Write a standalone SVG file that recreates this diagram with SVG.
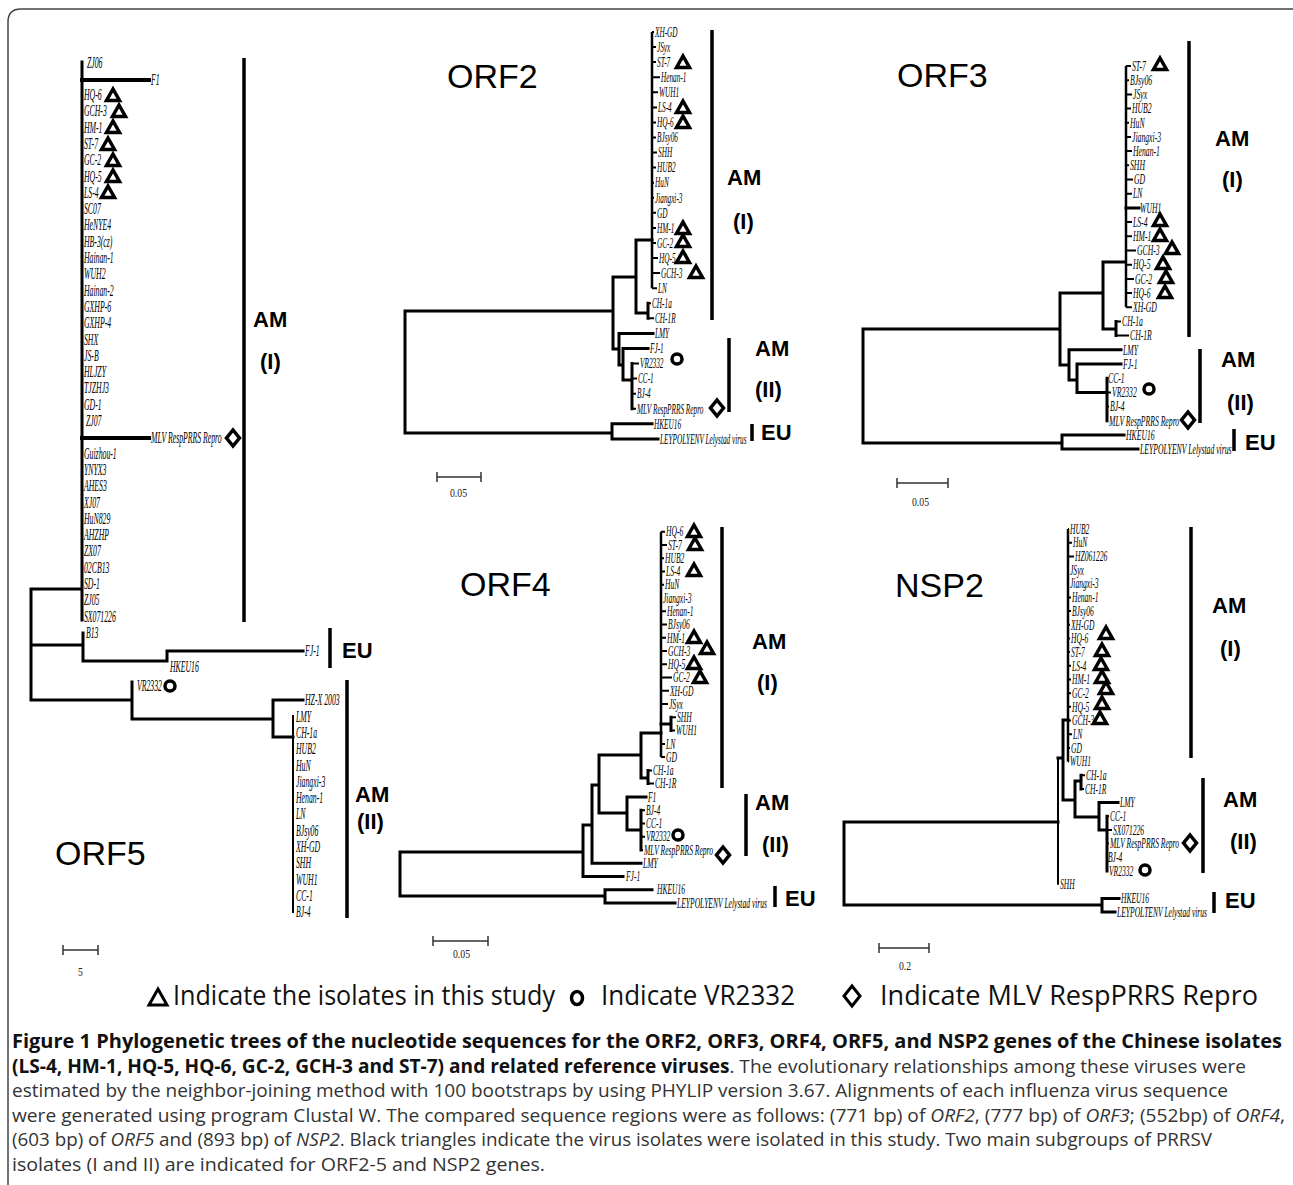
<svg xmlns="http://www.w3.org/2000/svg" xmlns:xlink="http://www.w3.org/1999/xlink" width="1293" height="1185" viewBox="0 0 1293 1185">
<style>
.b{stroke:#000;stroke-width:3;fill:none;stroke-linecap:square}
.bw{stroke:#000;stroke-width:4;fill:none;stroke-linecap:square}
.s{stroke:#000;stroke-width:2;fill:none}
.bar{stroke:#000;stroke-width:3.5;fill:none}
.sb{stroke:#333;stroke-width:1.5;fill:none}
.lf{font-family:"Liberation Serif","Times New Roman",serif;font-style:italic;fill:#000}
.l14{font-size:14px}
.l5{font-size:16.5px}
.cl{font-family:"Liberation Sans",Arial,sans-serif;font-weight:bold;font-size:22px;fill:#000}
.ti{font-family:"Liberation Sans",Arial,sans-serif;font-size:34px;fill:#000}
.mk{fill:#fff;stroke:#000;stroke-width:3.5;stroke-linejoin:miter}
.sc{font-family:"Liberation Serif","Times New Roman",serif;font-size:13px;fill:#222}
.lg{font-family:"Open Sans","Liberation Sans",sans-serif;font-size:28px;fill:#111}
.cap{font-family:"Open Sans","Liberation Sans",sans-serif;font-size:19px;fill:#333}
.cb{font-weight:bold;fill:#111}
.it{font-style:italic}
</style>
<defs>
<path id="tri" class="mk" d="M0,-6 L6.5,5.5 L-6.5,5.5 Z"/>
<circle id="cir" class="mk" r="5"/>
<path id="dia" class="mk" d="M0,-8 L6.5,0 L0,8 L-6.5,0 Z"/>
</defs>
<rect width="1293" height="1185" fill="#fff"/>
<path d="M8,1185V22Q8,9 21,9H1293" fill="none" stroke="#444" stroke-width="1.5"/>

<!-- ORF5 -->
<g id="orf5">
<g id="orf5-connectors">
<path class="b" d="M31,589V700M31,589H82M31,645H83M31,700H132M82,62V620M83,633V661M83,661H167M167,651V661M167,651H303M132,682V719M132,719H273M273,700V737M273,700H303M273,737H293"/>
<path class="bw" d="M82,80H149M82,438H149"/>
<path class="s" d="M293,715V913"/>
</g>
<g class="lf l5">
<text transform="translate(87,68) scale(.47 1)">ZJ06</text>
<text transform="translate(151,85) scale(.47 1)">F1</text>
<text transform="translate(84,100) scale(.47 1)">HQ-6</text>
<text transform="translate(84,116.3) scale(.47 1)">GCH-3</text>
<text transform="translate(84,132.6) scale(.47 1)">HM-1</text>
<text transform="translate(84,149) scale(.47 1)">ST-7</text>
<text transform="translate(84,165.2) scale(.47 1)">GC-2</text>
<text transform="translate(84,181.5) scale(.47 1)">HQ-5</text>
<text transform="translate(84,197.8) scale(.47 1)">LS-4</text>
<text transform="translate(84,214) scale(.47 1)">SC07</text>
<text transform="translate(84,230.4) scale(.47 1)">HeNYE4</text>
<text transform="translate(84,246.7) scale(.47 1)">HB-3(cz)</text>
<text transform="translate(84,263) scale(.47 1)">Hainan-1</text>
<text transform="translate(84,279.3) scale(.47 1)">WUH2</text>
<text transform="translate(84,295.6) scale(.47 1)">Hainan-2</text>
<text transform="translate(84,311.9) scale(.47 1)">GXHP-6</text>
<text transform="translate(84,328.2) scale(.47 1)">GXHP-4</text>
<text transform="translate(84,344.5) scale(.47 1)">SHX</text>
<text transform="translate(84,360.8) scale(.47 1)">JS-B</text>
<text transform="translate(84,377) scale(.47 1)">HLJZY</text>
<text transform="translate(84,393.4) scale(.47 1)">TJZHJ3</text>
<text transform="translate(84,409.7) scale(.47 1)">GD-1</text>
<text transform="translate(86,426) scale(.47 1)">ZJ07</text>
<text transform="translate(151,443) scale(.47 1)">MLV RespPRRS Repro</text>
<text transform="translate(84,458.6) scale(.47 1)">Guizhou-1</text>
<text transform="translate(84,474.9) scale(.47 1)">YNYX3</text>
<text transform="translate(84,491.2) scale(.47 1)">AHES3</text>
<text transform="translate(84,507.5) scale(.47 1)">XJ07</text>
<text transform="translate(84,523.8) scale(.47 1)">HuN829</text>
<text transform="translate(84,540) scale(.47 1)">AHZHP</text>
<text transform="translate(84,556.4) scale(.47 1)">ZX07</text>
<text transform="translate(84,572.7) scale(.47 1)">02CB13</text>
<text transform="translate(84,589) scale(.47 1)">SD-1</text>
<text transform="translate(84,605.3) scale(.47 1)">ZJ05</text>
<text transform="translate(84,621.6) scale(.47 1)">SX071226</text>
<text transform="translate(86,638) scale(.47 1)">B13</text>
<text transform="translate(305,656) scale(.47 1)">FJ-1</text>
<text transform="translate(170,672) scale(.47 1)">HKEU16</text>
<text transform="translate(137,691) scale(.47 1)">VR2332</text>
<text transform="translate(305,705) scale(.47 1)">HZ-X 2003</text>
<text transform="translate(296,722) scale(.47 1)">LMY</text>
<text transform="translate(296,738) scale(.47 1)">CH-1a</text>
<text transform="translate(296,754) scale(.47 1)">HUB2</text>
<text transform="translate(296,770.5) scale(.47 1)">HuN</text>
<text transform="translate(296,786.8) scale(.47 1)">Jiangxi-3</text>
<text transform="translate(296,803) scale(.47 1)">Henan-1</text>
<text transform="translate(296,819) scale(.47 1)">LN</text>
<text transform="translate(296,835.6) scale(.47 1)">BJsy06</text>
<text transform="translate(296,852) scale(.47 1)">XH-GD</text>
<text transform="translate(296,868) scale(.47 1)">SHH</text>
<text transform="translate(296,884.5) scale(.47 1)">WUH1</text>
<text transform="translate(296,900.8) scale(.47 1)">CC-1</text>
<text transform="translate(296,917) scale(.47 1)">BJ-4</text>
</g>
<use href="#tri" x="113" y="95"/><use href="#tri" x="119" y="111"/><use href="#tri" x="113" y="127"/><use href="#tri" x="108" y="144"/><use href="#tri" x="113" y="160"/><use href="#tri" x="113" y="176"/><use href="#tri" x="108" y="192"/>
<use href="#cir" x="170" y="686"/>
<use href="#dia" x="233" y="438"/>
<path class="bar" d="M244,58V622M330,628V668M347,680V918"/>
<text class="cl" x="253" y="327">AM</text>
<text class="cl" x="260" y="369">(I)</text>
<text class="cl" x="342" y="658">EU</text>
<text class="cl" x="355" y="802">AM</text>
<text class="cl" x="357" y="829">(II)</text>
<text class="ti" x="55" y="865">ORF5</text>
<path class="sb" d="M63,950H98M63,945V955M98,945V955"/>
<text class="sc" transform="translate(78,976) scale(.75 1)">5</text>
</g>

<!-- ORF2 -->
<g id="orf2">
<g id="orf2-connectors">
<path class="b" d="M405,311V433M405,311H613M405,433H612M612,423.8V438.9M612,423.8H652M612,438.9H658M613,277V349M613,277H636M636,240V313M636,240H652M636,313H648M648,303.3V318.3M613,349H619M619,333.4V365M619,333.4H653M619,365H623M623,348.5V380M623,348.5H648M623,380H632M632,363.5V408.8"/>
<path class="s" style="stroke-width:2.5" d="M652,32V288.2"/>
<path class="s" d="M652,32H654M652,47.1H656M652,62.1H656M652,77.2H660M652,92.3H658M652,107.4H657M652,122.4H656M652,137.5H656M652,152.6H657M652,167.6H656M652,182.7H654M652,197.8H654M652,212.8H656M652,227.9H656M652,243H656M652,258H658M652,273.1H660M652,288.2H657M648,303.3H651M648,318.3H654M632,363.5H639M632,378.6H637M632,393.7H636M632,408.8H636"/>
</g>
<g class="lf l14">
<text transform="translate(655,36.7) scale(.52 1)">XH-GD</text>
<text transform="translate(657,51.8) scale(.52 1)">JSyx</text>
<text transform="translate(657,66.8) scale(.52 1)">ST-7</text>
<text transform="translate(661,81.9) scale(.52 1)">Henan-1</text>
<text transform="translate(659,97) scale(.52 1)">WUH1</text>
<text transform="translate(658,112.1) scale(.52 1)">LS-4</text>
<text transform="translate(657,127.1) scale(.52 1)">HQ-6</text>
<text transform="translate(657,142.2) scale(.52 1)">BJsy06</text>
<text transform="translate(658,157.3) scale(.52 1)">SHH</text>
<text transform="translate(657,172.3) scale(.52 1)">HUB2</text>
<text transform="translate(655,187.4) scale(.52 1)">HuN</text>
<text transform="translate(655,202.5) scale(.52 1)">Jiangxi-3</text>
<text transform="translate(657,217.5) scale(.52 1)">GD</text>
<text transform="translate(657,232.6) scale(.52 1)">HM-1</text>
<text transform="translate(657,247.7) scale(.52 1)">GC-2</text>
<text transform="translate(659,262.7) scale(.52 1)">HQ-5</text>
<text transform="translate(661,277.8) scale(.52 1)">GCH-3</text>
<text transform="translate(658,292.9) scale(.52 1)">LN</text>
<text transform="translate(652,308) scale(.52 1)">CH-1a</text>
<text transform="translate(655,323) scale(.52 1)">CH-1R</text>
<text transform="translate(655,338.1) scale(.52 1)">LMY</text>
<text transform="translate(650,353.2) scale(.52 1)">FJ-1</text>
<text transform="translate(640,368.2) scale(.52 1)">VR2332</text>
<text transform="translate(638,383.3) scale(.52 1)">CC-1</text>
<text transform="translate(637,398.4) scale(.52 1)">BJ-4</text>
<text transform="translate(637,413.5) scale(.52 1)">MLV RespPRRS Repro</text>
<text transform="translate(654,428.5) scale(.52 1)">HKEU16</text>
<text transform="translate(660,443.6) scale(.52 1)">LEYPOLYENV Lelystad virus</text>
</g>
<use href="#tri" x="683" y="62"/><use href="#tri" x="683" y="107"/><use href="#tri" x="683" y="122"/><use href="#tri" x="683" y="228"/><use href="#tri" x="683" y="241"/><use href="#tri" x="683" y="257"/><use href="#tri" x="696" y="272"/>
<use href="#cir" x="677" y="359"/>
<use href="#dia" x="717" y="408"/>
<path class="bar" d="M712,30V320M729,338V412M752,424V441"/>
<text class="cl" x="727" y="185">AM</text>
<text class="cl" x="733" y="229">(I)</text>
<text class="cl" x="755" y="356">AM</text>
<text class="cl" x="755" y="397">(II)</text>
<text class="cl" x="761" y="440">EU</text>
<text class="ti" x="447" y="88">ORF2</text>
<path class="sb" d="M437,477H481M437,472V482M481,472V482"/>
<text class="sc" transform="translate(450,497) scale(.75 1)">0.05</text>
</g>

<!-- ORF3 -->
<g id="orf3">
<g id="orf3-connectors">
<path class="b" d="M863,329V443M863,329H1060M863,443H1062M1062,434.9V449.1M1062,434.9H1124M1062,449.1H1138M1060,293V365M1060,293H1103M1103,262V329M1103,262H1125M1103,329H1116M1116,321.4V335.6M1060,365H1069M1069,349.8V380M1069,349.8H1121M1069,380H1077M1077,364V392.4M1077,364H1121M1077,392.4H1107M1107,378.2V420.8M1126,207.9H1139"/>
<path class="s" style="stroke-width:2.5" d="M1126,66V307.2"/>
<path class="s" d="M1126,66H1131M1126,80.2H1129M1126,94.4H1132M1126,108.6H1131M1126,122.8H1129M1126,137H1131M1126,151.1H1132M1126,165.3H1129M1126,179.5H1133M1126,193.7H1132M1126,222.1H1132M1126,236.3H1132M1126,250.5H1136M1126,264.7H1132M1126,278.9H1134M1126,293H1132M1126,307.2H1132M1116,321.4H1121M1116,335.6H1129M1107,392.4H1111M1107,406.6H1109M1107,420.8H1108"/>
</g>
<g class="lf l14">
<text transform="translate(1132,70.7) scale(.55 1)">ST-7</text>
<text transform="translate(1130,84.9) scale(.55 1)">BJsy06</text>
<text transform="translate(1133,99.1) scale(.55 1)">JSyx</text>
<text transform="translate(1132,113.3) scale(.55 1)">HUB2</text>
<text transform="translate(1130,127.5) scale(.55 1)">HuN</text>
<text transform="translate(1132,141.7) scale(.55 1)">Jiangxi-3</text>
<text transform="translate(1133,155.8) scale(.55 1)">Henan-1</text>
<text transform="translate(1130,170) scale(.55 1)">SHH</text>
<text transform="translate(1134,184.2) scale(.55 1)">GD</text>
<text transform="translate(1133,198.4) scale(.55 1)">LN</text>
<text transform="translate(1140,212.6) scale(.55 1)">WUH1</text>
<text transform="translate(1133,226.8) scale(.55 1)">LS-4</text>
<text transform="translate(1133,241) scale(.55 1)">HM-1</text>
<text transform="translate(1137,255.2) scale(.55 1)">GCH-3</text>
<text transform="translate(1133,269.4) scale(.55 1)">HQ-5</text>
<text transform="translate(1135,283.6) scale(.55 1)">GC-2</text>
<text transform="translate(1133,297.7) scale(.55 1)">HQ-6</text>
<text transform="translate(1133,311.9) scale(.55 1)">XH-GD</text>
<text transform="translate(1122,326.1) scale(.55 1)">CH-1a</text>
<text transform="translate(1130,340.3) scale(.55 1)">CH-1R</text>
<text transform="translate(1123,354.5) scale(.55 1)">LMY</text>
<text transform="translate(1123,368.7) scale(.55 1)">FJ-1</text>
<text transform="translate(1108,382.9) scale(.55 1)">CC-1</text>
<text transform="translate(1112,397.1) scale(.55 1)">VR2332</text>
<text transform="translate(1110,411.3) scale(.55 1)">BJ-4</text>
<text transform="translate(1109,425.5) scale(.55 1)">MLV RespPRRS Repro</text>
<text transform="translate(1126,439.6) scale(.55 1)">HKEU16</text>
<text transform="translate(1140,453.8) scale(.55 1)">LEYPOLYENV Lelystad virus</text>
</g>
<use href="#tri" x="1160" y="64"/><use href="#tri" x="1160" y="220"/><use href="#tri" x="1160" y="235"/><use href="#tri" x="1172" y="248"/><use href="#tri" x="1163" y="263"/><use href="#tri" x="1166" y="277"/><use href="#tri" x="1165" y="292"/>
<use href="#cir" x="1149" y="389"/>
<use href="#dia" x="1188" y="420"/>
<path class="bar" d="M1189,41V337M1200,349V423M1234,429V451"/>
<text class="cl" x="1215" y="146">AM</text>
<text class="cl" x="1222" y="187">(I)</text>
<text class="cl" x="1221" y="367">AM</text>
<text class="cl" x="1227" y="410">(II)</text>
<text class="cl" x="1245" y="450">EU</text>
<text class="ti" x="897" y="87">ORF3</text>
<path class="sb" d="M897,483H948M897,478V488M948,478V488"/>
<text class="sc" transform="translate(912,506) scale(.75 1)">0.05</text>
</g>

<!-- ORF4 -->
<g id="orf4">
<g id="orf4-connectors">
<path class="b" d="M400,852V896M400,852H583M400,896H605M605,889.7V903M605,889.7H652M605,903H675M583,825V876.5M583,825H592M583,876.5H623M592,785V863.2M592,863.2H641M592,785H599M599,755V813M599,755H641M599,813H627M641,733V778M641,733H661M641,778H648M648,770.4V783.6M661,724H671M671,717.3V730.6M627,796.9V830M627,796.9H646M627,830H641M641,810.2V849.9"/>
<path class="s" style="stroke-width:2.5" d="M661,531.7V757.1"/>
<path class="s" d="M661,531.7H665M661,545H667M661,558.2H664M661,571.5H665M661,584.7H664M661,598H662M661,611.3H666M661,624.5H667M661,637.8H666M661,651H667M661,664.3H667M661,677.6H672M661,690.8H669M661,704.1H668M671,717.3H676M671,730.6H675M661,743.9H665M661,757.1H665M648,770.4H652M648,783.6H654M641,810.2H645M641,823.4H645M641,836.7H645M641,849.9H643"/>
</g>
<g class="lf l14">
<text transform="translate(666,536.4) scale(.54 1)">HQ-6</text>
<text transform="translate(668,549.7) scale(.54 1)">ST-7</text>
<text transform="translate(665,562.9) scale(.54 1)">HUB2</text>
<text transform="translate(666,576.2) scale(.54 1)">LS-4</text>
<text transform="translate(665,589.4) scale(.54 1)">HuN</text>
<text transform="translate(663,602.7) scale(.54 1)">Jiangxi-3</text>
<text transform="translate(667,616) scale(.54 1)">Henan-1</text>
<text transform="translate(668,629.2) scale(.54 1)">BJsy06</text>
<text transform="translate(667,642.5) scale(.54 1)">HM-1</text>
<text transform="translate(668,655.7) scale(.54 1)">GCH-3</text>
<text transform="translate(668,669) scale(.54 1)">HQ-5</text>
<text transform="translate(673,682.3) scale(.54 1)">GC-2</text>
<text transform="translate(670,695.5) scale(.54 1)">XH-GD</text>
<text transform="translate(669,708.8) scale(.54 1)">JSyx</text>
<text transform="translate(677,722) scale(.54 1)">SHH</text>
<text transform="translate(676,735.3) scale(.54 1)">WUH1</text>
<text transform="translate(666,748.6) scale(.54 1)">LN</text>
<text transform="translate(666,761.8) scale(.54 1)">GD</text>
<text transform="translate(653,775.1) scale(.54 1)">CH-1a</text>
<text transform="translate(655,788.3) scale(.54 1)">CH-1R</text>
<text transform="translate(648,801.6) scale(.54 1)">F1</text>
<text transform="translate(646,814.9) scale(.54 1)">BJ-4</text>
<text transform="translate(646,828.1) scale(.54 1)">CC-1</text>
<text transform="translate(646,841.4) scale(.54 1)">VR2332</text>
<text transform="translate(644,854.6) scale(.54 1)">MLV RespPRRS Repro</text>
<text transform="translate(643,867.9) scale(.54 1)">LMY</text>
<text transform="translate(626,881.2) scale(.54 1)">FJ-1</text>
<text transform="translate(657,894.4) scale(.54 1)">HKEU16</text>
<text transform="translate(677,907.7) scale(.54 1)">LEYPOLYENV Lelystad virus</text>
</g>
<use href="#tri" x="694" y="531"/><use href="#tri" x="695" y="544"/><use href="#tri" x="694" y="570"/><use href="#tri" x="694" y="637"/><use href="#tri" x="707" y="648"/><use href="#tri" x="694" y="663"/><use href="#tri" x="700" y="677"/>
<use href="#cir" x="678" y="835"/>
<use href="#dia" x="723" y="855"/>
<path class="bar" d="M722,527V788M746,794V856M775,886V907"/>
<text class="cl" x="752" y="649">AM</text>
<text class="cl" x="757" y="690">(I)</text>
<text class="cl" x="755" y="810">AM</text>
<text class="cl" x="762" y="852">(II)</text>
<text class="cl" x="785" y="906">EU</text>
<text class="ti" x="460" y="596">ORF4</text>
<path class="sb" d="M433,941H488M433,936V946M488,936V946"/>
<text class="sc" transform="translate(453,958) scale(.75 1)">0.05</text>
</g>

<!-- NSP2 -->
<g id="nsp2">
<g id="nsp2-connectors">
<path class="b" d="M844,822V905M844,822H1058M844,905H1102M1102,898.4V912M1102,898.4H1119M1102,912H1115M1058,758H1063M1063,720V800M1063,720H1068M1063,800H1075M1075,781V817M1075,781H1081M1081,775.2V788.9M1075,817H1099M1099,802.6V830M1099,802.6H1118M1099,830H1107M1107,816.3V871"/>
<path class="s" d="M1058,758V884.7"/>
<path class="s" style="stroke-width:2.5" d="M1068,529V761.6"/>
<path class="s" d="M1068,529H1069M1068,542.7H1072M1068,556.4H1074M1068,570H1069M1068,583.7H1069M1068,597.4H1071M1068,611.1H1071M1068,624.8H1070M1068,638.4H1070M1068,652.1H1070M1068,665.8H1071M1068,679.5H1071M1068,693.2H1071M1068,706.8H1071M1068,720.5H1071M1068,734.2H1072M1068,747.9H1070M1068,761.6H1069M1081,775.2H1085M1081,788.9H1084M1107,816.3H1109M1107,830H1112M1107,843.6H1109M1107,871H1108"/>
</g>
<g class="lf l14">
<text transform="translate(1070,533.7) scale(.54 1)">HUB2</text>
<text transform="translate(1073,547.4) scale(.54 1)">HuN</text>
<text transform="translate(1075,561.1) scale(.54 1)">HZ061226</text>
<text transform="translate(1070,574.7) scale(.54 1)">JSyx</text>
<text transform="translate(1070,588.4) scale(.54 1)">Jiangxi-3</text>
<text transform="translate(1072,602.1) scale(.54 1)">Henan-1</text>
<text transform="translate(1072,615.8) scale(.54 1)">BJsy06</text>
<text transform="translate(1071,629.5) scale(.54 1)">XH-GD</text>
<text transform="translate(1071,643.1) scale(.54 1)">HQ-6</text>
<text transform="translate(1071,656.8) scale(.54 1)">ST-7</text>
<text transform="translate(1072,670.5) scale(.54 1)">LS-4</text>
<text transform="translate(1072,684.2) scale(.54 1)">HM-1</text>
<text transform="translate(1072,697.9) scale(.54 1)">GC-2</text>
<text transform="translate(1072,711.5) scale(.54 1)">HQ-5</text>
<text transform="translate(1072,725.2) scale(.54 1)">GCH-3</text>
<text transform="translate(1073,738.9) scale(.54 1)">LN</text>
<text transform="translate(1071,752.6) scale(.54 1)">GD</text>
<text transform="translate(1070,766.3) scale(.54 1)">WUH1</text>
<text transform="translate(1086,779.9) scale(.54 1)">CH-1a</text>
<text transform="translate(1085,793.6) scale(.54 1)">CH-1R</text>
<text transform="translate(1120,807.3) scale(.54 1)">LMY</text>
<text transform="translate(1110,821) scale(.54 1)">CC-1</text>
<text transform="translate(1113,834.7) scale(.54 1)">SX071226</text>
<text transform="translate(1110,848.3) scale(.54 1)">MLV RespPRRS Repro</text>
<text transform="translate(1108,862) scale(.54 1)">BJ-4</text>
<text transform="translate(1109,875.7) scale(.54 1)">VR2332</text>
<text transform="translate(1060,889.4) scale(.54 1)">SHH</text>
<text transform="translate(1121,903.1) scale(.54 1)">HKEU16</text>
<text transform="translate(1117,916.7) scale(.54 1)">LEYPOLTENV Lelystad virus</text>
</g>
<use href="#tri" x="1106" y="633"/><use href="#tri" x="1102" y="650"/><use href="#tri" x="1101" y="664"/><use href="#tri" x="1102" y="677"/><use href="#tri" x="1106" y="688"/><use href="#tri" x="1102" y="703"/><use href="#tri" x="1100" y="718"/>
<use href="#cir" x="1145" y="870"/>
<use href="#dia" x="1190" y="843"/>
<path class="bar" d="M1191,527V758M1203,778V873M1214,892V913"/>
<text class="cl" x="1212" y="613">AM</text>
<text class="cl" x="1220" y="656">(I)</text>
<text class="cl" x="1223" y="807">AM</text>
<text class="cl" x="1230" y="849">(II)</text>
<text class="cl" x="1225" y="908">EU</text>
<text class="ti" x="895" y="597">NSP2</text>
<path class="sb" d="M879,948H929M879,943V953M929,943V953"/>
<text class="sc" transform="translate(899,970) scale(.75 1)">0.2</text>
</g>

<!-- Legend -->
<g id="legend">
<path d="M158,989 L167,1005 L149,1005 Z" fill="#fff" stroke="#000" stroke-width="3"/>
<text class="lg" x="173" y="1005" textLength="382" lengthAdjust="spacingAndGlyphs">Indicate the isolates in this study</text>
<ellipse cx="577" cy="998" rx="5.5" ry="6.5" fill="#fff" stroke="#000" stroke-width="3.5"/>
<text class="lg" x="601" y="1005" textLength="194" lengthAdjust="spacingAndGlyphs">Indicate VR2332</text>
<path d="M852,986 L860,996 L852,1006 L844,996 Z" fill="#fff" stroke="#000" stroke-width="3"/>
<text class="lg" x="880" y="1005" textLength="378" lengthAdjust="spacingAndGlyphs">Indicate MLV RespPRRS Repro</text>
</g>

<!-- Caption -->
<g id="caption">
<text class="cap cb" x="12" y="1048" textLength="1270" lengthAdjust="spacingAndGlyphs">Figure 1 Phylogenetic trees of the nucleotide sequences for the ORF2, ORF3, ORF4, ORF5, and NSP2 genes of the Chinese isolates</text>
<text class="cap" x="12" y="1072.6" textLength="1234" lengthAdjust="spacingAndGlyphs"><tspan class="cb">(LS-4, HM-1, HQ-5, HQ-6, GC-2, GCH-3 and ST-7) and related reference viruses</tspan>. The evolutionary relationships among these viruses were</text>
<text class="cap" x="12" y="1097.2" textLength="1216" lengthAdjust="spacingAndGlyphs">estimated by the neighbor-joining method with 100 bootstraps by using PHYLIP version 3.67. Alignments of each influenza virus sequence</text>
<text class="cap" x="12" y="1121.8" textLength="1273" lengthAdjust="spacingAndGlyphs">were generated using program Clustal W. The compared sequence regions were as follows: (771 bp) of <tspan class="it">ORF2</tspan>, (777 bp) of <tspan class="it">ORF3</tspan>; (552bp) of <tspan class="it">ORF4</tspan>,</text>
<text class="cap" x="12" y="1146.4" textLength="1200" lengthAdjust="spacingAndGlyphs">(603 bp) of <tspan class="it">ORF5</tspan> and (893 bp) of <tspan class="it">NSP2</tspan>. Black triangles indicate the virus isolates were isolated in this study. Two main subgroups of PRRSV</text>
<text class="cap" x="12" y="1171" textLength="533" lengthAdjust="spacingAndGlyphs">isolates (I and II) are indicated for ORF2-5 and NSP2 genes.</text>
</g>
</svg>
